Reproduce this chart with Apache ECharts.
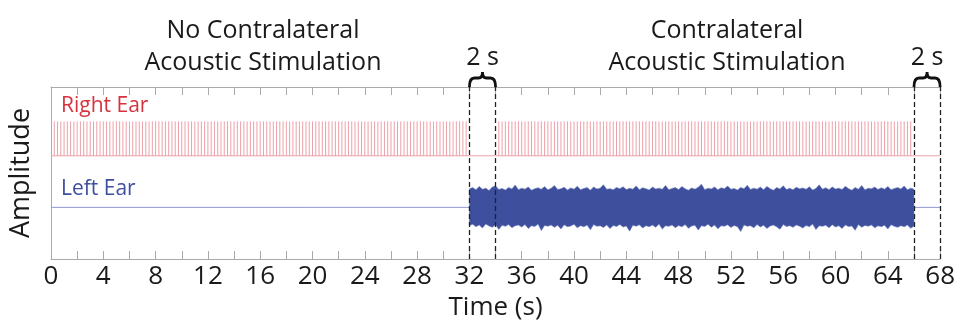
<!DOCTYPE html>
<html>
<head>
<meta charset="utf-8">
<script src="https://cdn.jsdelivr.net/npm/echarts@6/dist/echarts.min.js"></script>
<style>
  html, body { margin: 0; padding: 0; background: #fff; }
  #chart { width: 958px; height: 326px; }
</style>
</head>
<body>
<div id="chart"></div>
<script>
// click trains in the right ear: [start, end] in seconds
const clickTrains = [[0.25, 31.75], [34.25, 65.9]];
const clickPeriod = 0.25;
const rightBaseline = 6;
const clickTop = 8;

// contralateral noise in the left ear, one sample per 0.25 s from 32 s
const noiseStart = 32;
const noiseStep = 0.25;
const leftBaseline = 3;
const noiseUpper = [
    1.08,1.15,1.02,1.22,1.05,1.12,0.98,1.18,1.25,1.04,1.10,1.01,1.16,1.07,1.30,1.03,
    1.12,1.06,1.19,1.00,1.09,1.14,1.05,1.21,1.02,1.11,1.27,1.04,1.08,1.17,1.01,1.13,
    1.06,1.23,1.03,1.10,1.15,1.00,1.19,1.07,1.12,1.32,1.05,1.09,1.02,1.16,1.08,1.20,
    1.04,1.11,1.06,1.25,1.03,1.14,1.09,1.01,1.18,1.07,1.12,1.05,1.28,1.02,1.10,1.15,
    1.04,1.21,1.08,1.00,1.13,1.06,1.17,1.35,1.03,1.11,1.07,1.19,1.02,1.14,1.09,1.24,
    1.05,1.10,1.01,1.16,1.08,1.29,1.04,1.12,1.06,1.18,1.03,1.22,1.09,1.00,1.15,1.07,
    1.26,1.04,1.11,1.02,1.17,1.08,1.13,1.05,1.20,1.01,1.10,1.31,1.06,1.14,1.03,1.19,
    1.07,1.12,1.04,1.23,1.09,1.00,1.16,1.05,1.27,1.02,1.11,1.08,1.18,1.04,1.14,1.06,
    1.21,1.03,1.10,1.15,1.07,1.24,1.02,1.12,1.06
];
const noiseLower = [
    -1.05,-0.98,-1.12,-1.02,-1.20,-0.96,-1.08,-1.15,-1.01,-1.28,-1.04,-1.10,-0.99,-1.18,-1.06,-1.03,
    -1.14,-1.00,-1.22,-1.07,-1.11,-0.97,-1.35,-1.05,-1.09,-1.02,-1.16,-1.04,-1.25,-1.01,-1.12,-1.08,
    -0.98,-1.19,-1.06,-1.13,-1.03,-1.30,-1.00,-1.10,-1.07,-1.17,-1.02,-1.23,-1.05,-1.11,-0.99,-1.14,
    -1.08,-1.38,-1.04,-1.09,-1.01,-1.20,-1.06,-1.12,-1.03,-1.16,-0.97,-1.26,-1.07,-1.10,-1.02,-1.18,
    -1.05,-1.13,-1.00,-1.21,-1.08,-1.04,-1.32,-1.06,-1.11,-0.98,-1.15,-1.03,-1.24,-1.07,-1.09,-1.01,
    -1.17,-1.05,-1.12,-1.40,-1.02,-1.10,-1.06,-1.19,-0.99,-1.14,-1.04,-1.22,-1.08,-1.03,-1.13,-1.27,
    -1.00,-1.11,-1.06,-1.16,-1.02,-1.09,-1.20,-1.05,-1.12,-0.97,-1.29,-1.07,-1.10,-1.04,-1.18,-1.01,
    -1.14,-1.06,-1.23,-1.03,-1.11,-1.08,-1.33,-1.00,-1.15,-1.05,-1.09,-1.02,-1.19,-1.07,-1.12,-1.04,
    -1.25,-1.01,-1.10,-1.16,-1.06,-1.13,-1.03,-1.21,-1.08
];

// 2 s windows marked with braces and dashed lines
const windows = [[32, 34], [66, 68]];
const dashedAt = [32, 34, 66, 68];

const FONT = "Open Sans";

const noiseData = noiseUpper.map((u, i) => [noiseStart + i * noiseStep, leftBaseline + noiseLower[i], leftBaseline + u]);

const chart = echarts.init(document.getElementById("chart"));

chart.setOption({
    animation: false,
    title: [
        {
            text: "No Contralateral\nAcoustic Stimulation",
            left: 258, top: 10, textAlign: "center",
            textStyle: { fontFamily: FONT, fontSize: 25, fontWeight: "normal", color: "#1a1a1a", lineHeight: 32 }
        },
        {
            text: "Contralateral\nAcoustic Stimulation",
            left: 722, top: 10, textAlign: "center",
            textStyle: { fontFamily: FONT, fontSize: 25, fontWeight: "normal", color: "#1a1a1a", lineHeight: 32 }
        }
    ],
    graphic: [
        { type: "text", left: 61, top: 96, style: { text: "Right Ear", fontFamily: FONT, fontSize: 21, fill: "#d7333f" } },
        { type: "text", left: 61, top: 179, style: { text: "Left Ear", fontFamily: FONT, fontSize: 21, fill: "#3f4f9f" } }
    ],
    grid: { left: 50, right: 17, top: 87, bottom: 66 },
    xAxis: [
        {
            type: "value", min: 0, max: 68, interval: 2, position: "bottom",
            name: "Time (s)", nameLocation: "middle", nameGap: 36,
            nameTextStyle: { fontFamily: FONT, fontSize: 26, color: "#1a1a1a" },
            axisLine: { lineStyle: { color: "#aaaaaa", width: 1 } },
            axisTick: { inside: true, length: 8, lineStyle: { color: "#aaaaaa" } },
            axisLabel: {
                fontFamily: FONT, fontSize: 26, color: "#1a1a1a", margin: 5,
                formatter: v => (v % 4 === 0 ? String(v) : "")
            },
            splitLine: { show: false }
        },
        {
            type: "value", min: 0, max: 68, interval: 2, position: "top",
            axisLine: { show: true, lineStyle: { color: "#aaaaaa", width: 1 } },
            axisTick: { show: true, inside: true, length: 8, lineStyle: { color: "#aaaaaa" } },
            axisLabel: { show: false },
            splitLine: { show: false }
        }
    ],
    yAxis: {
        type: "value", min: 0, max: 10,
        name: "Amplitude", nameLocation: "middle", nameGap: 16,
        nameTextStyle: { fontFamily: FONT, fontSize: 27, color: "#1a1a1a" },
        axisLine: { show: true, lineStyle: { color: "#aaaaaa", width: 1 } },
        axisTick: { show: false },
        axisLabel: { show: false },
        splitLine: { show: false }
    },
    series: [
        {
            name: "Right baseline",
            type: "line",
            data: [[0, rightBaseline], [68, rightBaseline]],
            symbol: "none",
            lineStyle: { color: "#f0a3ab", width: 1 },
            z: 2
        },
        {
            name: "Left baseline",
            type: "line",
            data: [[0, leftBaseline], [68, leftBaseline]],
            symbol: "none",
            lineStyle: { color: "#8f98d4", width: 1 },
            z: 2
        },
        {
            name: "Clicks",
            type: "custom",
            clip: false,
            data: clickTrains,
            renderItem: (params, api) => {
                const t0 = api.value(0), t1 = api.value(1);
                const children = [];
                for (let t = t0; t <= t1 + 1e-6; t += clickPeriod) {
                    const a = api.coord([t, rightBaseline]);
                    const b = api.coord([t, clickTop]);
                    children.push({
                        type: "line",
                        shape: { x1: a[0], y1: a[1], x2: b[0], y2: b[1] },
                        style: { stroke: "#e8808b", lineWidth: 1, opacity: 0.75 }
                    });
                }
                return { type: "group", children };
            },
            z: 3,
            markLine: {
                silent: true,
                symbol: ["none", "none"],
                label: { show: false },
                lineStyle: { type: [5, 3], color: "#222222", width: 1.3 },
                data: dashedAt.map(x => ({ xAxis: x }))
            }
        },
        {
            name: "Noise",
            type: "custom",
            data: noiseData,
            renderItem: (params, api) => {
                // the whole noise band is one polygon, drawn once
                if (params.dataIndex !== 0) return null;
                const top = [], bottom = [];
                noiseData.forEach(d => {
                    top.push(api.coord([d[0], d[2]]));
                    bottom.push(api.coord([d[0], d[1]]));
                });
                return {
                    type: "polygon",
                    shape: { points: top.concat(bottom.reverse()) },
                    style: { fill: "#3e4f9e", stroke: "#6a78b8", lineWidth: 0.6 }
                };
            },
            z: 4
        },
        {
            name: "Windows",
            type: "custom",
            clip: false,
            data: windows,
            renderItem: (params, api) => {
                const p1 = api.coord([api.value(0), 10]);
                const p2 = api.coord([api.value(1), 10]);
                const x1 = p1[0], x2 = p2[0], yb = p1[1];
                const xc = (x1 + x2) / 2, ym = yb - 9, yt = yb - 15;
                const path =
                    "M" + x1 + "," + yb + " Q" + x1 + "," + ym + " " + (x1 + 5) + "," + ym +
                    " L" + (xc - 4) + "," + ym + " Q" + xc + "," + ym + " " + xc + "," + yt +
                    " M" + x2 + "," + yb + " Q" + x2 + "," + ym + " " + (x2 - 5) + "," + ym +
                    " L" + (xc + 4) + "," + ym + " Q" + xc + "," + ym + " " + xc + "," + yt;
                return {
                    type: "group",
                    children: [
                        {
                            type: "path",
                            shape: { pathData: path },
                            style: { stroke: "#111111", lineWidth: 2.8, fill: null }
                        },
                        {
                            type: "text",
                            style: {
                                text: "2 s", x: xc, y: yb - 29, align: "center", verticalAlign: "middle",
                                fontFamily: FONT, fontSize: 25, fill: "#1a1a1a"
                            }
                        }
                    ]
                };
            },
            z: 5
        }
    ]
});
</script>
</body>
</html>
